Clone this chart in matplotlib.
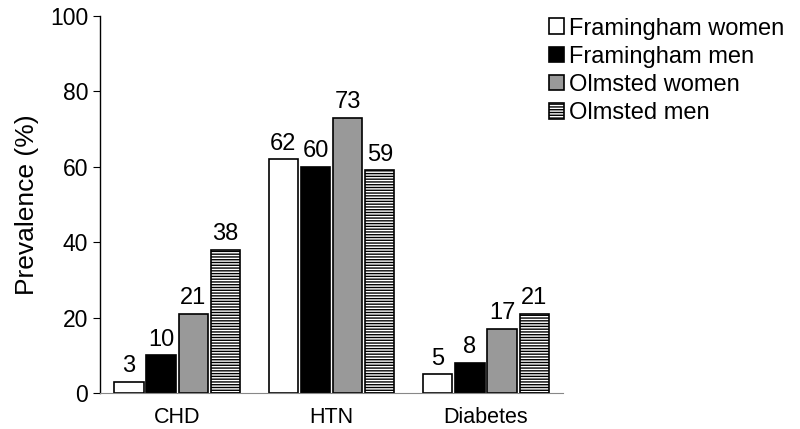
import matplotlib

matplotlib.use("Agg")
import matplotlib.pyplot as plt  # noqa: E402
import numpy as np  # noqa: E402

plt.rcParams["font.family"] = ["Liberation Sans", "DejaVu Sans"]
plt.rcParams["hatch.linewidth"] = 1.0

categories = ["CHD", "HTN", "Diabetes"]
series_names = ["Framingham women", "Framingham men", "Olmsted women", "Olmsted men"]
fram_women = [3, 62, 5]
fram_men = [10, 60, 8]
olm_women = [21, 73, 17]
olm_men = [38, 59, 21]

series = [fram_women, fram_men, olm_women, olm_men]
faces = ["white", "black", "#999999", "white"]
hatches = [None, None, None, "------"]

fig = plt.figure(figsize=(8, 4.29), dpi=100)
ax = fig.add_axes([0.125, 0.084, 0.579, 0.879])

x = np.arange(len(categories)) + 0.5
step, width = 0.208, 0.19
for i, (vals, fc, h, name) in enumerate(zip(series, faces, hatches, series_names)):
    pos = x + (i - 1.5) * step
    ax.bar(pos, vals, width=width, color=fc, edgecolor="black", linewidth=1.2,
           hatch=h, label=name)
    for p, v in zip(pos, vals):
        ax.text(p, v + 1.2, str(v), ha="center", va="bottom", fontsize=17)

ax.set_xlim(0, 3)
ax.set_ylim(0, 100)
ax.set_xticks(x)
ax.set_xticklabels(categories, fontsize=15.5)
ax.tick_params(axis="x", length=0, pad=10)
ax.set_yticks(range(0, 101, 20))
ax.tick_params(axis="y", labelsize=16.5, length=5, direction="out")
ax.set_ylabel("Prevalence (%)", fontsize=19, labelpad=8)
for s in ("top", "right"):
    ax.spines[s].set_visible(False)
ax.spines["bottom"].set_color("#888888")
ax.spines["left"].set_linewidth(1.0)

fig.legend(loc="upper left", bbox_to_anchor=(0.668, 0.992), frameon=False, fontsize=17,
           handlelength=0.65, handleheight=0.65, handletextpad=0.2, labelspacing=0.26,
           borderaxespad=0.2)

fig.savefig("out.png", dpi=100)
